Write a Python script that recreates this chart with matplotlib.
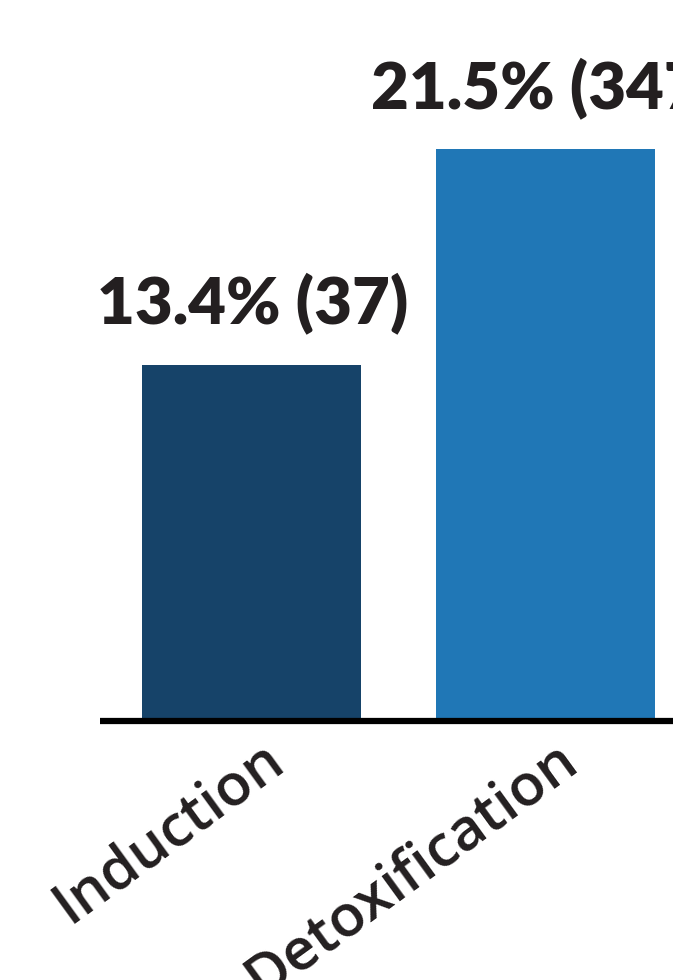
import matplotlib
matplotlib.use("Agg")
import matplotlib.pyplot as plt

categories = ["Induction", "Detoxification"]
values = [13.4, 21.5]
counts = [37, 347]
colors = ["#164369", "#2077B6"]
text_color = "#231F20"

W, H = 673, 980
fig = plt.figure(figsize=(W / 100, H / 100), dpi=100)
y0_px = 721
ax = fig.add_axes([100 / W, (H - y0_px) / H, (W - 100) / W, y0_px / H])
scale = 26.6  # px per percent
ax.set_ylim(0, y0_px / scale)
ax.set_xlim(-0.516, 1.436)

x = list(range(len(categories)))
ax.bar(x, values, width=0.746, color=colors, zorder=2)

for xi, v, c in zip(x, values, counts):
    ax.annotate(f"{v}% ({c})", (xi, v), xytext=(1, 30), textcoords="offset pixels",
                ha="center", va="bottom", fontsize=47, fontweight="heavy",
                family="Lato", color=text_color, annotation_clip=False)

for s in ["top", "right", "left"]:
    ax.spines[s].set_visible(False)
ax.spines["bottom"].set_linewidth(4.5)
ax.spines["bottom"].set_color("black")
ax.spines["bottom"].set_capstyle("butt")
ax.set_yticks([])
ax.set_xticks(x)
ax.set_xticklabels(categories, rotation=36, ha="right", rotation_mode="anchor",
                   fontsize=42, fontweight="semibold", family="Open Sans", color=text_color)
ax.tick_params(axis="x", length=0, pad=8)
for lab in ax.get_xticklabels():
    lab.set_transform(lab.get_transform() + matplotlib.transforms.ScaledTranslation(0.09, 0.02, fig.dpi_scale_trans))

fig.savefig("out.png", dpi=100)
